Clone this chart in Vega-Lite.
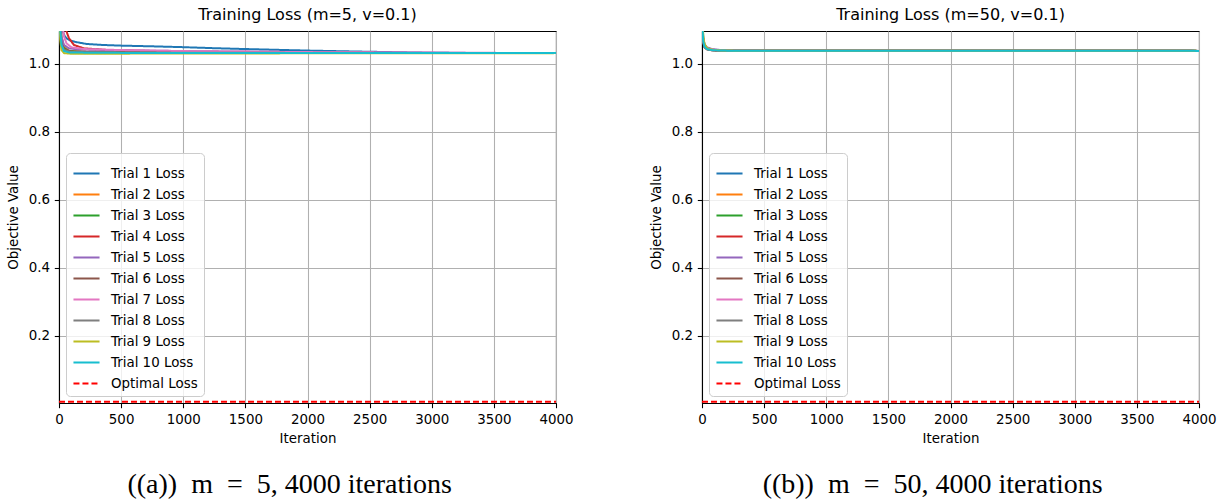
{
  "$schema": "https://vega.github.io/schema/vega-lite/v6.json",
  "padding": {"left": 5, "top": 6, "right": 5, "bottom": 2},
  "background": "white",
  "config": {
    "font": "DejaVu Sans",
    "view": {"stroke": "black", "strokeWidth": 1.07},
    "axis": {
      "domainColor": "black", "domainWidth": 1.07,
      "tickColor": "black", "tickWidth": 1.07, "tickSize": 4.7,
      "labelColor": "black", "labelFont": "DejaVu Sans", "labelFontSize": 13.4, "labelPadding": 4.7,
      "titleColor": "black", "titleFont": "DejaVu Sans", "titleFontSize": 13.4, "titleFontWeight": "normal", "titlePadding": 5.4,
      "gridColor": "#b0b0b0", "gridWidth": 1.07, "gridOpacity": 1, "labelFlush": false, "labelOverlap": false
    },
    "axisY": {"titlePadding": 8},
    "legend": {
      "orient": "bottom-left", "offset": 7, "title": null,
      "fillColor": "rgba(255,255,255,0.8)", "strokeColor": "#cccccc", "strokeWidth": 1, "cornerRadius": 4, "padding": 6,
      "labelFont": "DejaVu Sans", "labelFontSize": 13.4, "labelColor": "black", "labelOffset": 10,
      "symbolType": "stroke", "symbolSize": 680, "symbolStrokeWidth": 2, "rowPadding": 0
    },
    "title": {"font": "DejaVu Sans", "fontSize": 16, "fontWeight": "normal", "color": "black", "offset": 8}
  },
  "datasets": {
    "left": [
      {"trial": "Trial 1 Loss", "iter": 0, "loss": 1.40},
      {"trial": "Trial 1 Loss", "iter": 10, "loss": 1.22},
      {"trial": "Trial 1 Loss", "iter": 20, "loss": 1.13},
      {"trial": "Trial 1 Loss", "iter": 30, "loss": 1.095},
      {"trial": "Trial 1 Loss", "iter": 45, "loss": 1.082},
      {"trial": "Trial 1 Loss", "iter": 60, "loss": 1.075},
      {"trial": "Trial 1 Loss", "iter": 90, "loss": 1.068},
      {"trial": "Trial 1 Loss", "iter": 130, "loss": 1.064},
      {"trial": "Trial 1 Loss", "iter": 220, "loss": 1.058},
      {"trial": "Trial 1 Loss", "iter": 350, "loss": 1.055},
      {"trial": "Trial 1 Loss", "iter": 500, "loss": 1.053},
      {"trial": "Trial 1 Loss", "iter": 750, "loss": 1.051},
      {"trial": "Trial 1 Loss", "iter": 1000, "loss": 1.0485},
      {"trial": "Trial 1 Loss", "iter": 1250, "loss": 1.0455},
      {"trial": "Trial 1 Loss", "iter": 1500, "loss": 1.043},
      {"trial": "Trial 1 Loss", "iter": 2000, "loss": 1.0385},
      {"trial": "Trial 1 Loss", "iter": 2500, "loss": 1.035},
      {"trial": "Trial 1 Loss", "iter": 3000, "loss": 1.032},
      {"trial": "Trial 1 Loss", "iter": 3500, "loss": 1.031},
      {"trial": "Trial 1 Loss", "iter": 4000, "loss": 1.031},

      {"trial": "Trial 2 Loss", "iter": 0, "loss": 1.50},
      {"trial": "Trial 2 Loss", "iter": 10, "loss": 1.15},
      {"trial": "Trial 2 Loss", "iter": 20, "loss": 1.08},
      {"trial": "Trial 2 Loss", "iter": 40, "loss": 1.05},
      {"trial": "Trial 2 Loss", "iter": 80, "loss": 1.038},
      {"trial": "Trial 2 Loss", "iter": 200, "loss": 1.034},
      {"trial": "Trial 2 Loss", "iter": 1000, "loss": 1.032},
      {"trial": "Trial 2 Loss", "iter": 4000, "loss": 1.031},

      {"trial": "Trial 3 Loss", "iter": 0, "loss": 1.45},
      {"trial": "Trial 3 Loss", "iter": 10, "loss": 1.12},
      {"trial": "Trial 3 Loss", "iter": 20, "loss": 1.07},
      {"trial": "Trial 3 Loss", "iter": 40, "loss": 1.045},
      {"trial": "Trial 3 Loss", "iter": 80, "loss": 1.037},
      {"trial": "Trial 3 Loss", "iter": 200, "loss": 1.034},
      {"trial": "Trial 3 Loss", "iter": 1000, "loss": 1.032},
      {"trial": "Trial 3 Loss", "iter": 4000, "loss": 1.031},

      {"trial": "Trial 4 Loss", "iter": 0, "loss": 1.80},
      {"trial": "Trial 4 Loss", "iter": 20, "loss": 1.25},
      {"trial": "Trial 4 Loss", "iter": 40, "loss": 1.13},
      {"trial": "Trial 4 Loss", "iter": 60, "loss": 1.095},
      {"trial": "Trial 4 Loss", "iter": 80, "loss": 1.075},
      {"trial": "Trial 4 Loss", "iter": 120, "loss": 1.055},
      {"trial": "Trial 4 Loss", "iter": 200, "loss": 1.045},
      {"trial": "Trial 4 Loss", "iter": 400, "loss": 1.040},
      {"trial": "Trial 4 Loss", "iter": 1000, "loss": 1.035},
      {"trial": "Trial 4 Loss", "iter": 2000, "loss": 1.032},
      {"trial": "Trial 4 Loss", "iter": 4000, "loss": 1.031},

      {"trial": "Trial 5 Loss", "iter": 0, "loss": 1.40},
      {"trial": "Trial 5 Loss", "iter": 10, "loss": 1.15},
      {"trial": "Trial 5 Loss", "iter": 20, "loss": 1.08},
      {"trial": "Trial 5 Loss", "iter": 40, "loss": 1.055},
      {"trial": "Trial 5 Loss", "iter": 80, "loss": 1.045},
      {"trial": "Trial 5 Loss", "iter": 150, "loss": 1.042},
      {"trial": "Trial 5 Loss", "iter": 400, "loss": 1.040},
      {"trial": "Trial 5 Loss", "iter": 1000, "loss": 1.037},
      {"trial": "Trial 5 Loss", "iter": 2000, "loss": 1.034},
      {"trial": "Trial 5 Loss", "iter": 3000, "loss": 1.032},
      {"trial": "Trial 5 Loss", "iter": 4000, "loss": 1.031},

      {"trial": "Trial 6 Loss", "iter": 0, "loss": 1.35},
      {"trial": "Trial 6 Loss", "iter": 10, "loss": 1.10},
      {"trial": "Trial 6 Loss", "iter": 20, "loss": 1.06},
      {"trial": "Trial 6 Loss", "iter": 40, "loss": 1.042},
      {"trial": "Trial 6 Loss", "iter": 100, "loss": 1.036},
      {"trial": "Trial 6 Loss", "iter": 500, "loss": 1.034},
      {"trial": "Trial 6 Loss", "iter": 2000, "loss": 1.032},
      {"trial": "Trial 6 Loss", "iter": 4000, "loss": 1.031},

      {"trial": "Trial 7 Loss", "iter": 0, "loss": 1.60},
      {"trial": "Trial 7 Loss", "iter": 20, "loss": 1.15},
      {"trial": "Trial 7 Loss", "iter": 40, "loss": 1.08},
      {"trial": "Trial 7 Loss", "iter": 60, "loss": 1.06},
      {"trial": "Trial 7 Loss", "iter": 100, "loss": 1.048},
      {"trial": "Trial 7 Loss", "iter": 200, "loss": 1.043},
      {"trial": "Trial 7 Loss", "iter": 500, "loss": 1.040},
      {"trial": "Trial 7 Loss", "iter": 1000, "loss": 1.037},
      {"trial": "Trial 7 Loss", "iter": 2000, "loss": 1.034},
      {"trial": "Trial 7 Loss", "iter": 4000, "loss": 1.031},

      {"trial": "Trial 8 Loss", "iter": 0, "loss": 1.30},
      {"trial": "Trial 8 Loss", "iter": 10, "loss": 1.09},
      {"trial": "Trial 8 Loss", "iter": 20, "loss": 1.055},
      {"trial": "Trial 8 Loss", "iter": 40, "loss": 1.04},
      {"trial": "Trial 8 Loss", "iter": 100, "loss": 1.034},
      {"trial": "Trial 8 Loss", "iter": 1000, "loss": 1.032},
      {"trial": "Trial 8 Loss", "iter": 4000, "loss": 1.031},

      {"trial": "Trial 9 Loss", "iter": 0, "loss": 1.25},
      {"trial": "Trial 9 Loss", "iter": 5, "loss": 1.12},
      {"trial": "Trial 9 Loss", "iter": 10, "loss": 1.07},
      {"trial": "Trial 9 Loss", "iter": 20, "loss": 1.04},
      {"trial": "Trial 9 Loss", "iter": 40, "loss": 1.031},
      {"trial": "Trial 9 Loss", "iter": 100, "loss": 1.029},
      {"trial": "Trial 9 Loss", "iter": 1000, "loss": 1.030},
      {"trial": "Trial 9 Loss", "iter": 4000, "loss": 1.031},

      {"trial": "Trial 10 Loss", "iter": 0, "loss": 1.30},
      {"trial": "Trial 10 Loss", "iter": 10, "loss": 1.10},
      {"trial": "Trial 10 Loss", "iter": 20, "loss": 1.055},
      {"trial": "Trial 10 Loss", "iter": 40, "loss": 1.037},
      {"trial": "Trial 10 Loss", "iter": 80, "loss": 1.033},
      {"trial": "Trial 10 Loss", "iter": 300, "loss": 1.032},
      {"trial": "Trial 10 Loss", "iter": 1000, "loss": 1.031},
      {"trial": "Trial 10 Loss", "iter": 4000, "loss": 1.031},

      {"trial": "Optimal Loss", "iter": 0, "loss": 0.007},
      {"trial": "Optimal Loss", "iter": 4000, "loss": 0.007}
    ],
    "right": [
      {"trial": "Trial 1 Loss", "iter": 0, "loss": 1.20},
      {"trial": "Trial 1 Loss", "iter": 3, "loss": 1.12},
      {"trial": "Trial 1 Loss", "iter": 6, "loss": 1.085},
      {"trial": "Trial 1 Loss", "iter": 10, "loss": 1.065},
      {"trial": "Trial 1 Loss", "iter": 20, "loss": 1.05},
      {"trial": "Trial 1 Loss", "iter": 40, "loss": 1.043},
      {"trial": "Trial 1 Loss", "iter": 80, "loss": 1.040},
      {"trial": "Trial 1 Loss", "iter": 150, "loss": 1.0385},
      {"trial": "Trial 1 Loss", "iter": 300, "loss": 1.038},
      {"trial": "Trial 1 Loss", "iter": 1000, "loss": 1.0378},
      {"trial": "Trial 1 Loss", "iter": 4000, "loss": 1.0376},

      {"trial": "Trial 2 Loss", "iter": 0, "loss": 1.25},
      {"trial": "Trial 2 Loss", "iter": 3, "loss": 1.14},
      {"trial": "Trial 2 Loss", "iter": 6, "loss": 1.095},
      {"trial": "Trial 2 Loss", "iter": 10, "loss": 1.07},
      {"trial": "Trial 2 Loss", "iter": 20, "loss": 1.052},
      {"trial": "Trial 2 Loss", "iter": 40, "loss": 1.044},
      {"trial": "Trial 2 Loss", "iter": 80, "loss": 1.040},
      {"trial": "Trial 2 Loss", "iter": 150, "loss": 1.0387},
      {"trial": "Trial 2 Loss", "iter": 300, "loss": 1.038},
      {"trial": "Trial 2 Loss", "iter": 4000, "loss": 1.0376},

      {"trial": "Trial 3 Loss", "iter": 0, "loss": 1.32},
      {"trial": "Trial 3 Loss", "iter": 3, "loss": 1.18},
      {"trial": "Trial 3 Loss", "iter": 6, "loss": 1.11},
      {"trial": "Trial 3 Loss", "iter": 10, "loss": 1.078},
      {"trial": "Trial 3 Loss", "iter": 20, "loss": 1.056},
      {"trial": "Trial 3 Loss", "iter": 40, "loss": 1.046},
      {"trial": "Trial 3 Loss", "iter": 80, "loss": 1.041},
      {"trial": "Trial 3 Loss", "iter": 150, "loss": 1.039},
      {"trial": "Trial 3 Loss", "iter": 300, "loss": 1.038},
      {"trial": "Trial 3 Loss", "iter": 4000, "loss": 1.0376},

      {"trial": "Trial 4 Loss", "iter": 0, "loss": 1.22},
      {"trial": "Trial 4 Loss", "iter": 3, "loss": 1.13},
      {"trial": "Trial 4 Loss", "iter": 6, "loss": 1.09},
      {"trial": "Trial 4 Loss", "iter": 10, "loss": 1.066},
      {"trial": "Trial 4 Loss", "iter": 20, "loss": 1.05},
      {"trial": "Trial 4 Loss", "iter": 40, "loss": 1.043},
      {"trial": "Trial 4 Loss", "iter": 80, "loss": 1.0395},
      {"trial": "Trial 4 Loss", "iter": 150, "loss": 1.0383},
      {"trial": "Trial 4 Loss", "iter": 300, "loss": 1.0378},
      {"trial": "Trial 4 Loss", "iter": 4000, "loss": 1.0376},

      {"trial": "Trial 5 Loss", "iter": 0, "loss": 1.28},
      {"trial": "Trial 5 Loss", "iter": 3, "loss": 1.16},
      {"trial": "Trial 5 Loss", "iter": 6, "loss": 1.10},
      {"trial": "Trial 5 Loss", "iter": 10, "loss": 1.075},
      {"trial": "Trial 5 Loss", "iter": 20, "loss": 1.057},
      {"trial": "Trial 5 Loss", "iter": 40, "loss": 1.048},
      {"trial": "Trial 5 Loss", "iter": 80, "loss": 1.043},
      {"trial": "Trial 5 Loss", "iter": 150, "loss": 1.040},
      {"trial": "Trial 5 Loss", "iter": 300, "loss": 1.0385},
      {"trial": "Trial 5 Loss", "iter": 1000, "loss": 1.0378},
      {"trial": "Trial 5 Loss", "iter": 4000, "loss": 1.0376},

      {"trial": "Trial 6 Loss", "iter": 0, "loss": 1.18},
      {"trial": "Trial 6 Loss", "iter": 3, "loss": 1.11},
      {"trial": "Trial 6 Loss", "iter": 6, "loss": 1.08},
      {"trial": "Trial 6 Loss", "iter": 10, "loss": 1.062},
      {"trial": "Trial 6 Loss", "iter": 20, "loss": 1.048},
      {"trial": "Trial 6 Loss", "iter": 40, "loss": 1.042},
      {"trial": "Trial 6 Loss", "iter": 80, "loss": 1.0395},
      {"trial": "Trial 6 Loss", "iter": 150, "loss": 1.0383},
      {"trial": "Trial 6 Loss", "iter": 4000, "loss": 1.0376},

      {"trial": "Trial 7 Loss", "iter": 0, "loss": 1.24},
      {"trial": "Trial 7 Loss", "iter": 3, "loss": 1.14},
      {"trial": "Trial 7 Loss", "iter": 6, "loss": 1.095},
      {"trial": "Trial 7 Loss", "iter": 10, "loss": 1.07},
      {"trial": "Trial 7 Loss", "iter": 20, "loss": 1.053},
      {"trial": "Trial 7 Loss", "iter": 40, "loss": 1.045},
      {"trial": "Trial 7 Loss", "iter": 80, "loss": 1.041},
      {"trial": "Trial 7 Loss", "iter": 150, "loss": 1.039},
      {"trial": "Trial 7 Loss", "iter": 300, "loss": 1.038},
      {"trial": "Trial 7 Loss", "iter": 4000, "loss": 1.0376},

      {"trial": "Trial 8 Loss", "iter": 0, "loss": 1.20},
      {"trial": "Trial 8 Loss", "iter": 3, "loss": 1.12},
      {"trial": "Trial 8 Loss", "iter": 6, "loss": 1.085},
      {"trial": "Trial 8 Loss", "iter": 10, "loss": 1.064},
      {"trial": "Trial 8 Loss", "iter": 20, "loss": 1.049},
      {"trial": "Trial 8 Loss", "iter": 40, "loss": 1.0425},
      {"trial": "Trial 8 Loss", "iter": 80, "loss": 1.0395},
      {"trial": "Trial 8 Loss", "iter": 150, "loss": 1.0383},
      {"trial": "Trial 8 Loss", "iter": 4000, "loss": 1.0376},

      {"trial": "Trial 9 Loss", "iter": 0, "loss": 1.35},
      {"trial": "Trial 9 Loss", "iter": 3, "loss": 1.20},
      {"trial": "Trial 9 Loss", "iter": 6, "loss": 1.12},
      {"trial": "Trial 9 Loss", "iter": 10, "loss": 1.08},
      {"trial": "Trial 9 Loss", "iter": 20, "loss": 1.058},
      {"trial": "Trial 9 Loss", "iter": 40, "loss": 1.046},
      {"trial": "Trial 9 Loss", "iter": 80, "loss": 1.041},
      {"trial": "Trial 9 Loss", "iter": 150, "loss": 1.039},
      {"trial": "Trial 9 Loss", "iter": 300, "loss": 1.038},
      {"trial": "Trial 9 Loss", "iter": 4000, "loss": 1.0376},

      {"trial": "Trial 10 Loss", "iter": 0, "loss": 1.21},
      {"trial": "Trial 10 Loss", "iter": 3, "loss": 1.125},
      {"trial": "Trial 10 Loss", "iter": 6, "loss": 1.088},
      {"trial": "Trial 10 Loss", "iter": 10, "loss": 1.066},
      {"trial": "Trial 10 Loss", "iter": 20, "loss": 1.05},
      {"trial": "Trial 10 Loss", "iter": 40, "loss": 1.043},
      {"trial": "Trial 10 Loss", "iter": 80, "loss": 1.0398},
      {"trial": "Trial 10 Loss", "iter": 150, "loss": 1.0385},
      {"trial": "Trial 10 Loss", "iter": 300, "loss": 1.038},
      {"trial": "Trial 10 Loss", "iter": 4000, "loss": 1.0376},

      {"trial": "Optimal Loss", "iter": 0, "loss": 0.007},
      {"trial": "Optimal Loss", "iter": 4000, "loss": 0.007}
    ]
  },
  "spacing": 74,
  "resolve": {"scale": {"color": "independent", "strokeDash": "independent", "x": "independent", "y": "independent"}},
  "hconcat": [
    {
      "title": {"text": "((a))\u00a0 m\u00a0 =\u00a0 5, 4000 iterations", "orient": "bottom", "anchor": "middle", "frame": "bounds", "font": "Liberation Serif", "fontSize": 28, "offset": 26},
      "resolve": {"scale": {"color": "independent", "strokeDash": "independent"}},
      "vconcat": [
        {
          "title": {"text": "Training Loss (m=5, v=0.1)", "anchor": "middle", "frame": "group"},
          "width": 497,
          "height": 372,
          "data": {"name": "left"},
          "mark": {"type": "line", "clip": true, "strokeWidth": 2},
          "encoding": {
            "x": {"field": "iter", "type": "quantitative", "title": "Iteration",
                  "scale": {"domain": [0, 4000], "nice": false},
                  "axis": {"values": [0, 500, 1000, 1500, 2000, 2500, 3000, 3500, 4000], "format": "d"}},
            "y": {"field": "loss", "type": "quantitative", "title": "Objective Value",
                  "scale": {"domain": [0.003, 1.096], "nice": false, "zero": false},
                  "axis": {"values": [0.2, 0.4, 0.6, 0.8, 1.0], "format": ".1f"}},
            "color": {"field": "trial", "type": "nominal",
                      "scale": {"domain": ["Trial 1 Loss", "Trial 2 Loss", "Trial 3 Loss", "Trial 4 Loss", "Trial 5 Loss", "Trial 6 Loss", "Trial 7 Loss", "Trial 8 Loss", "Trial 9 Loss", "Trial 10 Loss", "Optimal Loss"],
                                "range": ["#1f77b4", "#ff7f0e", "#2ca02c", "#d62728", "#9467bd", "#8c564b", "#e377c2", "#7f7f7f", "#bcbd22", "#17becf", "#ff0000"]}},
            "strokeDash": {"field": "trial", "type": "nominal",
                      "scale": {"domain": ["Trial 1 Loss", "Trial 2 Loss", "Trial 3 Loss", "Trial 4 Loss", "Trial 5 Loss", "Trial 6 Loss", "Trial 7 Loss", "Trial 8 Loss", "Trial 9 Loss", "Trial 10 Loss", "Optimal Loss"],
                                "range": [[1, 0], [1, 0], [1, 0], [1, 0], [1, 0], [1, 0], [1, 0], [1, 0], [1, 0], [1, 0], [6, 3]]}}
          }
        }
      ]
    },
    {
      "title": {"text": "((b))\u00a0 m\u00a0 =\u00a0 50, 4000 iterations", "orient": "bottom", "anchor": "middle", "frame": "bounds", "font": "Liberation Serif", "fontSize": 28, "offset": 26},
      "resolve": {"scale": {"color": "independent", "strokeDash": "independent"}},
      "vconcat": [
        {
          "title": {"text": "Training Loss (m=50, v=0.1)", "anchor": "middle", "frame": "group"},
          "width": 497,
          "height": 372,
          "data": {"name": "right"},
          "mark": {"type": "line", "clip": true, "strokeWidth": 2},
          "encoding": {
            "x": {"field": "iter", "type": "quantitative", "title": "Iteration",
                  "scale": {"domain": [0, 4000], "nice": false},
                  "axis": {"values": [0, 500, 1000, 1500, 2000, 2500, 3000, 3500, 4000], "format": "d"}},
            "y": {"field": "loss", "type": "quantitative", "title": "Objective Value",
                  "scale": {"domain": [0.003, 1.096], "nice": false, "zero": false},
                  "axis": {"values": [0.2, 0.4, 0.6, 0.8, 1.0], "format": ".1f"}},
            "color": {"field": "trial", "type": "nominal",
                      "scale": {"domain": ["Trial 1 Loss", "Trial 2 Loss", "Trial 3 Loss", "Trial 4 Loss", "Trial 5 Loss", "Trial 6 Loss", "Trial 7 Loss", "Trial 8 Loss", "Trial 9 Loss", "Trial 10 Loss", "Optimal Loss"],
                                "range": ["#1f77b4", "#ff7f0e", "#2ca02c", "#d62728", "#9467bd", "#8c564b", "#e377c2", "#7f7f7f", "#bcbd22", "#17becf", "#ff0000"]}},
            "strokeDash": {"field": "trial", "type": "nominal",
                      "scale": {"domain": ["Trial 1 Loss", "Trial 2 Loss", "Trial 3 Loss", "Trial 4 Loss", "Trial 5 Loss", "Trial 6 Loss", "Trial 7 Loss", "Trial 8 Loss", "Trial 9 Loss", "Trial 10 Loss", "Optimal Loss"],
                                "range": [[1, 0], [1, 0], [1, 0], [1, 0], [1, 0], [1, 0], [1, 0], [1, 0], [1, 0], [1, 0], [6, 3]]}}
          }
        }
      ]
    }
  ]
}
